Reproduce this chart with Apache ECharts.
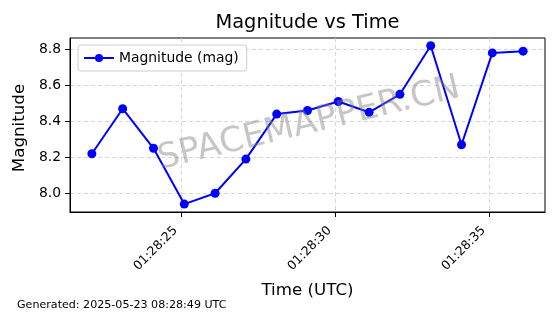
<!DOCTYPE html>
<html>
<head>
<meta charset="utf-8">
<script src="https://cdn.jsdelivr.net/npm/echarts@6/dist/echarts.min.js"></script>
<style>
html,body{margin:0;padding:0;background:#fff;}
#chart{width:560px;height:314px;}
</style>
</head>
<body>
<div id="chart"></div>
<script>
// ---- data ----
var times = ["01:28:22.1","01:28:23.1","01:28:24.1","01:28:25.1","01:28:26.1","01:28:27.1","01:28:28.1","01:28:29.1","01:28:30.1","01:28:31.1","01:28:32.1","01:28:33.1","01:28:34.1","01:28:35.1","01:28:36.1"];
var magnitudes = [8.22, 8.47, 8.25, 7.94, 8.00, 8.19, 8.44, 8.46, 8.51, 8.45, 8.55, 8.82, 8.27, 8.78, 8.79];
var xTickLabels = ["01:28:25","01:28:30","01:28:35"];
var yTicks = [8.0, 8.2, 8.4, 8.6, 8.8];
var seriesName = "Magnitude (mag)";
var titleText = "Magnitude vs Time";
var footerText = "Generated: 2025-05-23 08:28:49 UTC";
var watermarkText = "SPACEMAPPER.CN";

function toSec(s){
  var p = s.split(":");
  return (+p[0])*3600 + (+p[1])*60 + parseFloat(p[2]);
}
function fmt(sec){
  sec = Math.round(sec);
  var h = Math.floor(sec/3600), m = Math.floor((sec%3600)/60), s = sec%60;
  function z(n){return (n<10?"0":"")+n;}
  return z(h)+":"+z(m)+":"+z(s);
}
var data = times.map(function(t,i){return [toSec(t), magnitudes[i]];});
var xTickVals = xTickLabels.map(toSec);

var font = "DejaVu Sans";
var chart = echarts.init(document.getElementById('chart'), null, {renderer:'canvas'});
chart.setOption({
  animation:false,
  backgroundColor:'#fff',
  textStyle:{fontFamily:font},
  grid:{left:70, right:15, top:38, bottom:102, show:true, borderColor:'#000', borderWidth:1, backgroundColor:'transparent'},
  legend:{
    show:true, left:78, top:45, orient:'vertical',
    padding:[6,8,6,5],
    borderColor:'#cccccc', borderWidth:1, borderRadius:3, backgroundColor:'rgba(255,255,255,0.8)',
    itemWidth:30, itemHeight:10, itemGap:8,
    textStyle:{fontFamily:font, fontSize:13.9, color:'#000'},
    data:[seriesName]
  },
  xAxis:{
    type:'value',
    min: toSec("01:28:21.39"), max: toSec("01:28:36.81"),
    name:'Time (UTC)', nameLocation:'middle', nameGap:70,
    nameTextStyle:{fontFamily:font, fontSize:16.7, color:'#000'},
    axisLine:{show:true, lineStyle:{color:'#000', width:1}},
    axisTick:{show:true, length:5, customValues:xTickVals, lineStyle:{color:'#000'}},
    axisLabel:{customValues:xTickVals, rotate:45, margin:11, padding:[0,8,0,0], fontFamily:font, fontSize:12.5, color:'#000',
      formatter:function(v){return fmt(v);}},
    splitLine:{show:true, lineStyle:{color:'#cccccc', type:[4,3], width:0.8}}
  },
  yAxis:{
    type:'value',
    min:7.896, max:8.863,
    name:'Magnitude', nameLocation:'middle', nameGap:31,
    nameTextStyle:{fontFamily:font, fontSize:16.7, color:'#000', padding:[0,6,0,0]},
    axisLine:{show:true, lineStyle:{color:'#000', width:1}},
    axisTick:{show:true, length:5, customValues:yTicks, lineStyle:{color:'#000'}},
    axisLabel:{customValues:yTicks, margin:9, fontFamily:font, fontSize:13.9, color:'#000',
      formatter:function(v){return v.toFixed(1);}},
    splitLine:{show:true, lineStyle:{color:'#cccccc', type:[4,3], width:0.8}}
  },
  graphic:[
    {type:'text', style:{text:titleText, x:307.5, y:23, align:'center', verticalAlign:'middle', font:'19.4px "DejaVu Sans"', fill:'#000'}},
    {type:'text', style:{text:footerText, x:17, y:305, align:'left', verticalAlign:'middle', font:'11.1px "DejaVu Sans"', fill:'#000'}},
    {type:'text', x:309, y:124, rotation:13.5*Math.PI/180, z:100,
      style:{text:watermarkText, x:0, y:0, align:'center', verticalAlign:'middle', font:'34.5px "DejaVu Sans"', fill:'rgba(128,128,128,0.45)'}}
  ],
  series:[{
    name:seriesName, type:'line', data:data,
    color:'#0000ff',
    lineStyle:{color:'#0000ff', width:2},
    itemStyle:{color:'#0000ff'},
    symbol:'circle', symbolSize:9, showSymbol:true
  }]
});
</script>
</body>
</html>
